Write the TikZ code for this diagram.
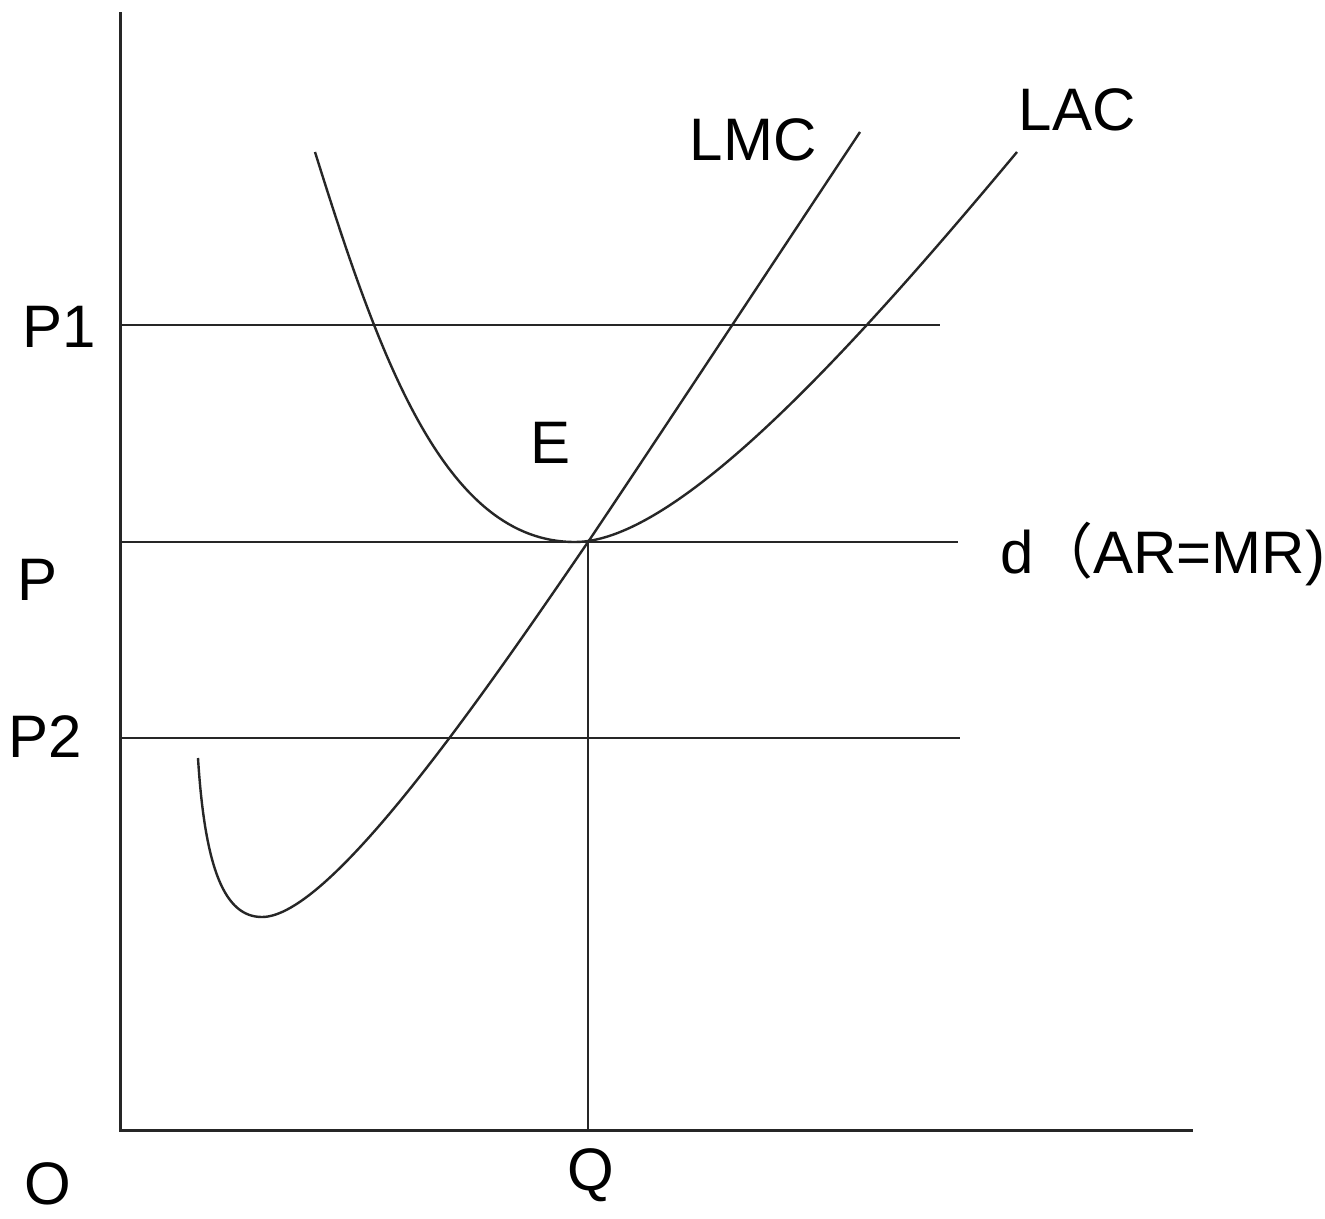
\documentclass[tikz,border=0pt]{standalone}
\usepackage{fontspec}
\setmainfont{Liberation Sans}
\newfontfamily\cjk{Noto Sans CJK SC}
\begin{document}
\begin{tikzpicture}[x=1pt,y=-1pt,
  axis/.style={line width=3pt, draw=black!85},
  hline/.style={line width=2.8pt, draw=black!85},
  curve/.style={line width=2.4pt, draw=black!85},
  lbl/.style={inner sep=0pt, anchor=base, font=\fontsize{60}{72}\selectfont}]
\useasboundingbox (0,0) rectangle (1325,1218);
\fill[white] (0,0) rectangle (1325,1218);
% coordinates
\coordinate (O) at (120,1130);
\coordinate (ytop) at (120,12);
\coordinate (xend) at (1193,1130);
\coordinate (p1a) at (120,325);
\coordinate (p1b) at (940,325);
\coordinate (pa) at (120,542);
\coordinate (pb) at (958,542);
\coordinate (p2a) at (120,738);
\coordinate (p2b) at (960,738);
\coordinate (E) at (588,542);
\coordinate (Qb) at (588,1130);
% axes
\draw[axis] (ytop) -- (O) -- (xend);
% price lines
\draw[hline] (p1a) -- (p1b);
\draw[hline] (pa) -- (pb);
\draw[hline] (p2a) -- (p2b);
\draw[hline] (E) -- (Qb);
% LAC
\coordinate (lacS) at (315,152);
\coordinate (lacM) at (575,542);
\coordinate (lacE) at (1017,152);
\draw[curve] (lacS) .. controls (380,360) and (445,542) .. (lacM)
  .. controls (680,542) and (860,340) .. (lacE);
% LMC
\coordinate (lmcS) at (198,758);
\coordinate (lmcM) at (262,917);
\coordinate (lmcE) at (860,132);
\draw[curve] (lmcS) .. controls (205,870) and (225,917) .. (lmcM)
  .. controls (330,917) and (480,700) .. (E)
  .. controls (650,450) and (775,260) .. (lmcE);
% labels
\node[lbl] (tLMC) at (753,160) {LMC};
\node[lbl] (tLAC) at (1077,130) {LAC};
\node[lbl] (tP1) at (59,347) {P1};
\node[lbl] (tP) at (38,600) {P};
\node[lbl] (tP2) at (45,757) {P2};
\node[lbl] (tE) at (551,463) {E};
\node[lbl, anchor=base west] (td) at (1000,573) {d{\cjk （}AR=MR)};
\node[lbl] (tQ) at (591,1190) {Q};
\node[lbl] (tO) at (48,1204) {O};
\end{tikzpicture}
\end{document}
